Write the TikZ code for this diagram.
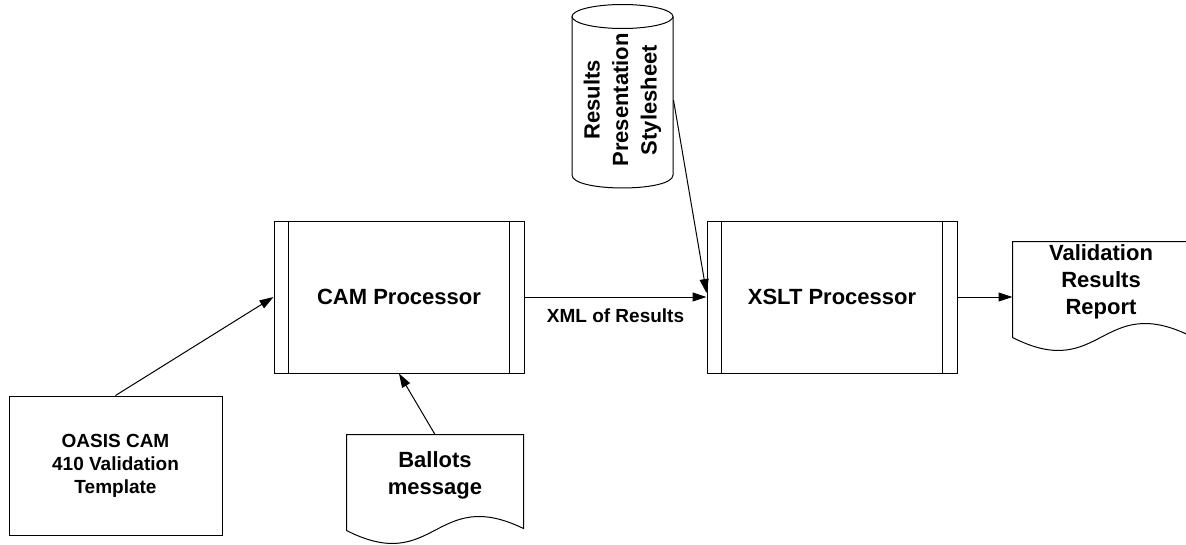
\documentclass[tikz,border=0pt]{standalone}
\usepackage{fontspec}
\setmainfont{Liberation Sans}
\usetikzlibrary{arrows.meta}
\begin{document}
\begin{tikzpicture}[x=1pt, y=-1pt, line width=1pt]

      \tikzset{process/.style={draw, rectangle, minimum width=250pt, minimum height=152pt, font=\fontsize{22}{27}\selectfont\bfseries},
               template/.style={draw, rectangle, minimum width=213pt, minimum height=139pt, align=center, font=\fontsize{19}{23}\selectfont\bfseries},
               docum/.style={rectangle, minimum width=176pt, minimum height=80pt, inner sep=0pt, align=center, font=\fontsize{22}{27}\selectfont\bfseries},
               store/.style={rectangle, rotate=90, minimum width=158pt, minimum height=101pt, inner sep=0pt, align=center, font=\fontsize{22}{28.5}\selectfont\bfseries},
               lbl/.style={font=\fontsize{19}{23}\selectfont\bfseries}}
      \useasboundingbox (0,0) rectangle (1186,544);
      \clip (0,0) rectangle (1186,544);
%% Shapes
      	\node[template] (oasis) at (115.5,465.5) {OASIS CAM\\410 Validation\\Template};
      	\node[process] (cam) at (399,297) {CAM Processor};
      	\node[process] (xslt) at (832,297) {XSLT Processor};
      	\node[docum] (ballots) at (435,475) {Ballots\\message};
      	\node[docum] (report) at (1101,282) {Validation\\Results\\Report};
      	\node[store] (sheet) at (622.5,100) {Results\\Presentation\\Stylesheet};
%Outlines
		\draw ([xshift=15pt]cam.north west) -- ([xshift=15pt]cam.south west);
		\draw ([xshift=-15pt]cam.north east) -- ([xshift=-15pt]cam.south east);
		\draw ([xshift=15pt]xslt.north west) -- ([xshift=15pt]xslt.south west);
		\draw ([xshift=-15pt]xslt.north east) -- ([xshift=-15pt]xslt.south east);
		\draw (ballots.north west) -- ([yshift=-15pt]ballots.south west) .. controls ([yshift=-60pt]ballots.south) and ([yshift=30pt]ballots.south) .. ([yshift=-13pt]ballots.south east) -- (ballots.north east) -- cycle;
		\draw (report.north west) -- ([yshift=-15pt]report.south west) .. controls ([yshift=-60pt]report.south) and ([yshift=30pt]report.south) .. ([yshift=-13pt]report.south east) -- (report.north east) -- cycle;
		\draw (622.5,16.5) ellipse [x radius=50.5, y radius=12];
		\draw (572,16.5) -- (572,175) .. controls (572,192.3) and (673,192.3) .. (673,175) -- (673,16.5);
%Edges
		\path [->, > = {Triangle[length=14pt, width=9pt]}] (oasis.north) edge (cam.west);
		\path [->, > = {Triangle[length=14pt, width=9pt]}] (ballots.north) edge (cam.south);
		\path [->, > = {Triangle[length=14pt, width=9pt]}] (cam) edge node[lbl, below=8pt] {XML of Results} (xslt);
		\path [->, > = {Triangle[length=14pt, width=9pt]}] (sheet.south) edge ([yshift=4pt]xslt.west);
		\path [->, > = {Triangle[length=14pt, width=9pt]}] (xslt.east) edge (xslt.east -| report.west);

	\end{tikzpicture}
\end{document}
